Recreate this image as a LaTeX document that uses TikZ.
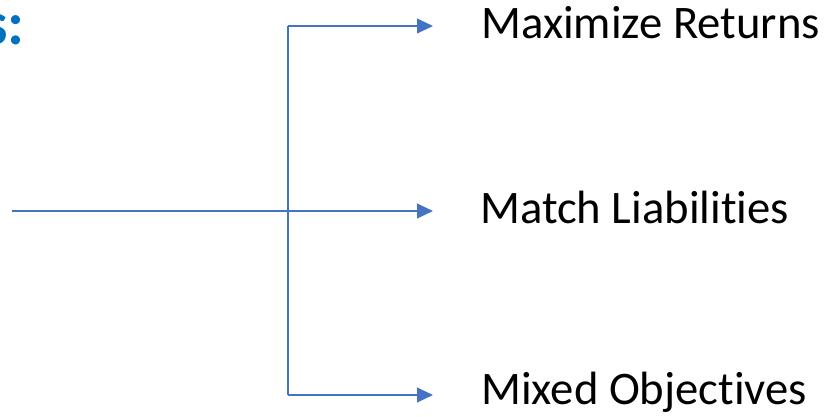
\documentclass[tikz,border=0pt]{standalone}
\usepackage{fontspec}
\setmainfont{Carlito}[Ligatures=NoCommon]
\usetikzlibrary{arrows.meta}
\definecolor{linkblue}{HTML}{4472C4}
\definecolor{headblue}{HTML}{0070C0}
\tikzset{
  branch/.style={draw=linkblue,line width=1.5pt,-{Triangle[length=12pt,width=11pt]}},
  stem/.style={draw=linkblue,line width=1.1pt},
  goal/.style={anchor=base west,inner sep=0pt,font=\fontsize{35}{42}\selectfont},
}
\begin{document}
\begin{tikzpicture}[x=0.75pt,y=0.75pt,yscale=-1,xscale=1]
\useasboundingbox (0,0) rectangle (833,417);

% Heading (cut off at the left edge)
\node (head) [anchor=base east,inner sep=0pt,text=headblue,font=\bfseries\fontsize{46}{55}\selectfont] at (25,45) {s:};

% Fork points
\coordinate (start) at (12,211);
\coordinate (forktop) at (288,26);
\coordinate (forkmid) at (288,211);
\coordinate (forkbot) at (288,395);
\coordinate (tiptop) at (433,26);
\coordinate (tipmid) at (433,211);
\coordinate (tipbot) at (433,395);

% Text Node
\node (returns) [goal] at (481,39) {Maximize Returns};
% Text Node
\node (liab) [goal] at (480,224) {Match Liabilities};
% Text Node
\node (mixed) [goal] at (481,405) {Mixed Objectives};

%Straight Lines
\draw [draw=linkblue,line width=0.9pt] (start) -- (forkmid);
\draw [stem] (forktop) -- (forkbot);
%Arrows
\draw [branch] (forktop) -- (tiptop);
\draw [branch] (forkmid) -- (tipmid);
\draw [branch] (forkbot) -- (tipbot);

\end{tikzpicture}
\end{document}
